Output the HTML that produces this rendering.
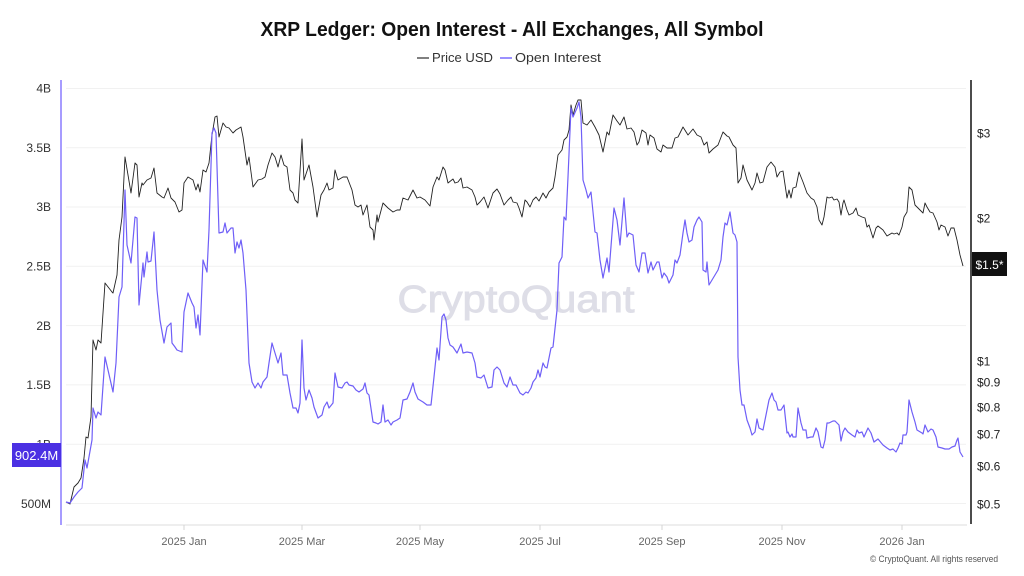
<!DOCTYPE html>
<html><head><meta charset="utf-8"><style>
html,body{margin:0;padding:0;background:#fff;width:1024px;height:576px;overflow:hidden}
svg{display:block}
text{font-family:"Liberation Sans",Arial,sans-serif}
</style></head><body>
<svg width="1024" height="576" viewBox="0 0 1024 576" xmlns="http://www.w3.org/2000/svg">
<rect width="1024" height="576" fill="#fff"/>
<text x="512" y="36" text-anchor="middle" font-size="20" font-weight="bold" fill="#111" textLength="503" lengthAdjust="spacingAndGlyphs">XRP Ledger: Open Interest - All Exchanges, All Symbol</text>
<line x1="417" y1="58" x2="429" y2="58" stroke="#555" stroke-width="1.5"/>
<text x="432" y="62" font-size="12.5" fill="#333" textLength="61" lengthAdjust="spacingAndGlyphs">Price USD</text>
<line x1="500" y1="58" x2="512" y2="58" stroke="#7b6cff" stroke-width="1.5"/>
<text x="515" y="62" font-size="12.5" fill="#333" textLength="86" lengthAdjust="spacingAndGlyphs">Open Interest</text>
<g stroke="#f1f1f1" stroke-width="1">
<line x1="66" y1="88.5" x2="966" y2="88.5"/>
<line x1="66" y1="147.8" x2="966" y2="147.8"/>
<line x1="66" y1="207" x2="966" y2="207"/>
<line x1="66" y1="266.3" x2="966" y2="266.3"/>
<line x1="66" y1="325.6" x2="966" y2="325.6"/>
<line x1="66" y1="384.9" x2="966" y2="384.9"/>
<line x1="66" y1="444.2" x2="966" y2="444.2"/>
<line x1="66" y1="503.5" x2="966" y2="503.5"/>
</g>
<text x="516" y="312" text-anchor="middle" font-size="38" fill="#dedee7" stroke="#dedee7" stroke-width="0.9" textLength="237" lengthAdjust="spacingAndGlyphs">CryptoQuant</text>
<line x1="66" y1="525" x2="967" y2="525" stroke="#dcdcdc" stroke-width="1"/>
<g stroke="#d5d5d5" stroke-width="1">
<line x1="184" y1="525" x2="184" y2="530"/><line x1="302" y1="525" x2="302" y2="530"/>
<line x1="420" y1="525" x2="420" y2="530"/><line x1="540" y1="525" x2="540" y2="530"/>
<line x1="662" y1="525" x2="662" y2="530"/><line x1="782" y1="525" x2="782" y2="530"/>
<line x1="902" y1="525" x2="902" y2="530"/>
</g>
<g font-size="11" fill="#666" text-anchor="middle">
<text x="184" y="545">2025 Jan</text><text x="302" y="545">2025 Mar</text>
<text x="420" y="545">2025 May</text><text x="540" y="545">2025 Jul</text>
<text x="662" y="545">2025 Sep</text><text x="782" y="545">2025 Nov</text>
<text x="902" y="545">2026 Jan</text>
</g>
<text x="998" y="562" text-anchor="end" font-size="9" fill="#555" textLength="128" lengthAdjust="spacingAndGlyphs">© CryptoQuant. All rights reserved</text>
<line x1="61" y1="80" x2="61" y2="525" stroke="#8a7cff" stroke-width="1.5"/>
<line x1="971" y1="80" x2="971" y2="524" stroke="#111" stroke-width="1.5"/>
<g font-size="12" fill="#333" text-anchor="end">
<text x="51" y="92.5">4B</text><text x="51" y="152">3.5B</text>
<text x="51" y="211">3B</text><text x="51" y="270.5">2.5B</text>
<text x="51" y="330">2B</text><text x="51" y="389">1.5B</text>
<text x="51" y="448.5">1B</text><text x="51" y="508">500M</text>
</g>
<g font-size="12" fill="#222">
<text x="977" y="137.5">$3</text><text x="977" y="222.5">$2</text>
<text x="977" y="365.5">$1</text><text x="977" y="386.5">$0.9</text>
<text x="977" y="411.5">$0.8</text><text x="977" y="438.5">$0.7</text>
<text x="977" y="470.5">$0.6</text><text x="977" y="508.5">$0.5</text>
</g>
<polyline fill="none" stroke="#222" stroke-width="0.9" stroke-linejoin="round" points="66,502 70,504 74,487 78,483 81,478 84,458 86,437 88,438 91,417 93,340 96,350 98,340 101,343 105,283 112,292 113,293 117,275 119,240 122,217 125,157 131,193 135,163 137,165 139,197 142,183 143,185 147,180 151,178 154,168 157,193 162,197 164,198 168,188 171,198 175,202 179,212 182,210 184,183 188,177 193,180 196,190 198,184 200,192 203,170 206,172 209,163 212,135 215,117 217,116 219,137 223,123 226,127 229,128 233,133 236,130 241,127 243,137 247,165 249,157 253,187 258,180 262,179 265,177 268,165 272,153 275,157 278,167 281,155 284,165 287,167 290,190 293,193 295,200 298,203 302,139 304,180 309,165 313,187 317,217 321,195 324,190 327,183 329,190 333,188 335,170 338,180 343,177 347,177 352,190 355,205 358,207 361,205 363,215 367,205 370,227 373,230 374,240 377,215 378,222 383,203 388,208 393,212 397,210 400,210 403,198 408,200 413,190 417,198 420,197 425,200 430,206 433,187 437,177 439,180 443,167 445,170 448,183 453,179 455,183 458,182 461,178 463,188 467,187 472,190 475,197 477,205 480,202 484,197 488,208 493,193 497,189 500,194 504,205 508,200 511,197 513,202 517,203 519,208 522,217 525,200 527,202 530,207 533,200 536,197 539,201 543,193 546,198 549,192 553,188 555,177 558,155 562,150 564,140 567,137 569,130 571,105 573,115 576,105 578,100 581,100 583,123 587,125 591,120 595,127 599,135 603,152 607,132 609,135 613,115 617,121 620,125 624,117 627,129 631,128 634,132 637,145 639,142 642,130 646,133 648,145 650,135 654,138 657,149 661,152 663,145 667,148 672,148 675,138 678,137 683,127 688,135 693,129 697,135 701,137 704,145 707,142 709,153 713,149 718,145 723,132 727,136 729,137 733,145 736,148 738,183 741,178 743,165 747,180 752,190 755,183 757,173 760,183 763,182 767,167 771,162 775,167 777,177 780,172 783,171 787,198 789,190 791,198 793,188 796,187 799,172 803,182 807,193 811,198 814,200 817,207 819,220 822,225 824,217 827,197 829,198 832,197 834,200 837,199 839,202 841,215 843,203 844,200 847,210 849,215 853,213 856,208 858,215 862,217 865,218 867,227 869,225 873,238 876,228 878,226 883,230 887,236 892,233 894,234 897,233 899,235 902,227 904,217 907,212 909,187 912,190 915,205 918,208 923,213 925,203 927,207 930,212 933,213 937,222 939,230 941,225 945,227 948,236 951,228 954,228 957,240 960,255 963,266"/>
<polyline fill="none" stroke="#6f5ff7" stroke-width="1.2" stroke-linejoin="round" points="66,502 70,503 74,497 78,492 82,488 85,460 87,468 92,440 93,408 96,418 98,412 101,415 105,357 108,370 113,392 116,363 119,297 122,287 125,190 127,245 131,263 135,217 137,218 139,305 143,263 144,277 147,252 148,262 151,261 154,232 157,290 160,320 164,343 167,327 171,323 172,343 175,347 177,350 182,352 184,312 188,293 192,303 194,307 196,328 198,315 200,335 203,260 207,272 209,230 212,133 214,128 216,133 219,233 223,232 225,223 227,233 231,228 233,228 235,253 237,242 239,248 241,240 243,253 246,290 249,363 252,382 255,388 258,383 261,388 263,382 267,377 269,363 272,343 275,353 278,363 281,353 283,375 287,375 290,393 293,408 296,408 298,413 300,403 302,340 304,388 306,400 309,390 312,398 314,407 318,418 322,415 324,407 327,402 329,408 333,403 335,373 338,387 342,388 345,383 347,382 349,385 353,386 356,390 359,392 363,389 365,383 367,393 369,395 373,422 376,423 378,424 381,422 383,405 385,422 388,420 391,425 393,422 397,420 400,418 403,400 407,399 410,392 413,383 415,392 418,399 423,402 427,405 431,405 434,377 437,348 439,360 442,317 444,314 446,320 448,338 450,345 453,347 455,350 457,353 461,344 463,353 467,352 472,353 475,363 477,377 481,378 484,375 488,388 492,387 494,370 497,367 500,370 504,383 507,387 510,377 513,385 516,385 520,393 523,395 526,392 528,393 531,388 533,382 536,378 538,370 540,377 543,363 545,367 547,368 551,348 553,347 557,310 559,263 562,257 564,217 566,220 568,177 571,108 573,117 577,108 579,102 581,117 583,180 586,190 588,198 591,192 595,232 597,233 600,260 603,278 607,258 609,272 614,208 617,220 620,245 624,198 627,237 629,233 633,235 636,265 639,272 642,253 645,253 648,273 651,262 653,270 657,262 659,262 662,278 664,273 667,277 669,283 673,275 675,260 677,263 680,255 683,233 685,220 687,233 689,242 692,240 694,227 697,220 699,217 702,222 703,270 706,272 707,262 709,285 712,280 715,275 718,270 721,260 723,237 725,223 727,225 730,212 733,233 735,235 737,242 738,357 740,390 742,405 744,405 747,420 750,428 752,435 755,432 757,419 759,428 763,430 767,410 769,400 772,393 774,400 776,402 778,410 781,410 784,405 787,433 788,432 790,437 792,434 793,437 796,437 798,408 801,423 803,430 806,430 807,438 811,437 813,437 816,428 818,432 821,447 823,448 825,440 827,423 829,423 833,421 835,421 837,423 839,425 841,441 843,432 845,428 848,432 852,435 855,437 857,430 859,433 862,432 864,437 868,428 871,433 874,442 878,439 883,445 887,448 890,450 893,449 896,452 898,448 900,443 902,444 903,435 906,435 907,432 909,400 912,412 915,422 917,430 922,433 923,434 925,425 928,432 931,429 933,430 936,437 938,447 942,448 945,449 949,449 952,447 955,446 957,440 958,438 960,452 963,457"/>
<rect x="12" y="443" width="49" height="24" fill="#4b30e3"/>
<text x="36.5" y="460" text-anchor="middle" font-size="13" fill="#fff">902.4M</text>
<rect x="972" y="252" width="35" height="24" fill="#111"/>
<text x="989.5" y="269" text-anchor="middle" font-size="12" fill="#fff">$1.5*</text>
</svg>
</body></html>
